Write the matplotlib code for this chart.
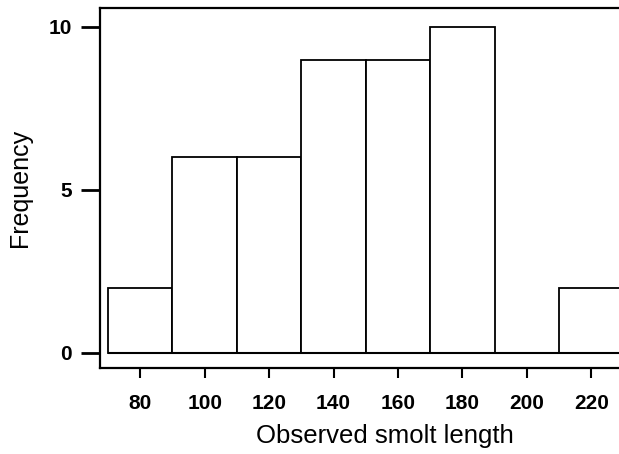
import matplotlib
matplotlib.use("Agg")
import matplotlib.pyplot as plt
import numpy as np

bin_edges = [70, 90, 110, 130, 150, 170, 190, 210, 230]
counts = [2, 6, 6, 9, 9, 10, 0, 2]
xticks = [80, 100, 120, 140, 160, 180, 200, 220]
yticks = [0, 5, 10]

plt.rcParams['font.family'] = ['Liberation Sans', 'DejaVu Sans']

fig = plt.figure(figsize=(6.19, 4.54), dpi=100)
ax = fig.add_axes([100/619, (454-368)/454, 1 - 100/619 + 0.01, (368-8)/454])

lefts = np.array(bin_edges[:-1])
widths = np.diff(bin_edges)
ax.bar(lefts, counts, width=widths, align='edge', facecolor='white',
       edgecolor='black', linewidth=1.3)
ax.hlines(0, bin_edges[0], bin_edges[-1], color='black', linewidth=1.5)

ax.set_xlim(67.5, 230.5)
ax.set_ylim(-0.46, 10.58)
ax.set_xticks(xticks)
ax.set_yticks(yticks)

for s in ['left', 'top', 'bottom']:
    ax.spines[s].set_linewidth(1.6)
ax.spines['right'].set_visible(False)

ax.tick_params(axis='y', direction='out', length=14, width=2, pad=6, labelsize=15)
ax.tick_params(axis='x', direction='out', length=7, width=1.5, pad=12, labelsize=15)
for lab in ax.get_xticklabels() + ax.get_yticklabels():
    lab.set_fontweight('semibold')

ax.set_xlabel('Observed smolt length', fontsize=18.5, labelpad=9)
ax.xaxis.set_label_coords(0.543, -0.155)
ax.xaxis.label.set_va('top')
ax.set_ylabel('Frequency', fontsize=18, labelpad=12)

fig.savefig('out.png', dpi=100)
